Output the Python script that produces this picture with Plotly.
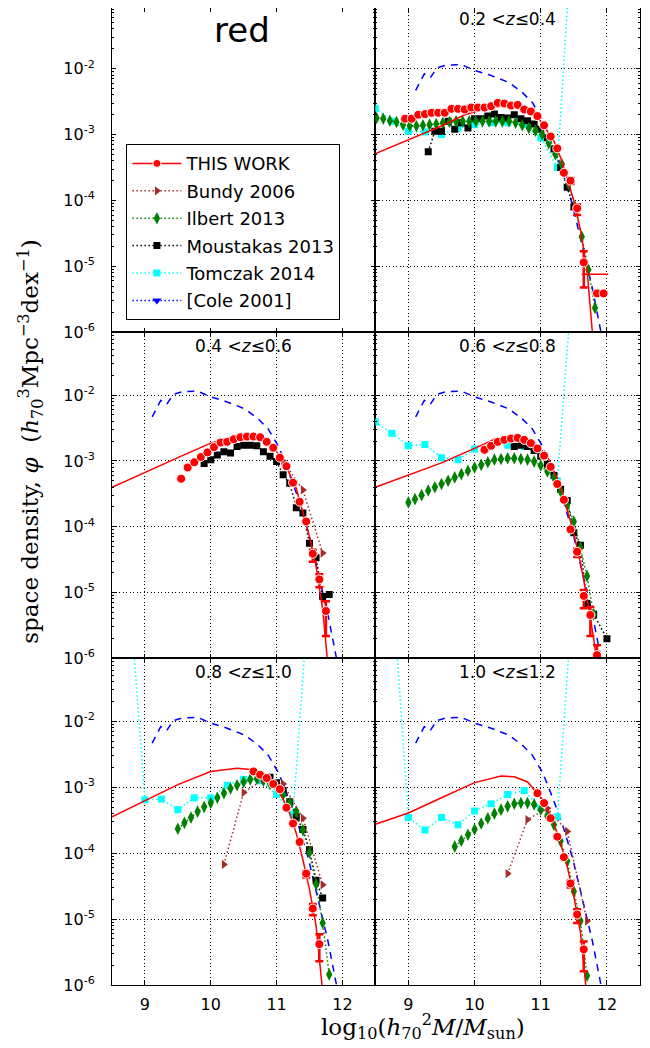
import plotly.graph_objects as go

# ---------------- data: x = log10(h70^2 M/Msun), y = log10(phi) ----------------
# [Cole 2001] local reference (same in every panel)
cole_x = [9.11, 9.24, 9.33, 9.43, 9.56, 9.80, 10.01, 10.24, 10.52, 10.72, 10.87, 11.03, 11.18, 11.33, 11.48, 11.63, 11.78, 11.92]
cole_y = [-2.33, -2.08, -2.14, -1.99, -1.95, -1.94, -2.03, -2.10, -2.21, -2.36, -2.51, -2.78, -3.16, -3.57, -4.07, -4.68, -5.33, -6.05]

# THIS WORK data points
tw_x_02 = [8.95, 9.05, 9.15, 9.25, 9.35, 9.45, 9.55, 9.65, 9.75, 9.85, 9.95, 10.05, 10.15, 10.25, 10.35, 10.45, 10.55, 10.65, 10.75, 10.85, 10.95, 11.05, 11.15, 11.25, 11.35, 11.45, 11.55, 11.65, 11.85, 11.95]
tw_y_02 = [-2.76, -2.76, -2.70, -2.69, -2.67, -2.67, -2.67, -2.61, -2.61, -2.62, -2.59, -2.59, -2.59, -2.57, -2.52, -2.53, -2.56, -2.55, -2.62, -2.65, -2.72, -2.86, -3.03, -3.21, -3.58, -3.70, -4.12, -4.94, -5.41, -5.41]
tw_elo_02 = [None] * 25 + [0.05, 0.10, 0.38, None, None]
tw_ehi_02 = [None] * 25 + [0.04, 0.06, 0.17, None, None]

tw_x_04 = [9.55, 9.65, 9.75, 9.85, 9.95, 10.05, 10.15, 10.25, 10.35, 10.45, 10.55, 10.65, 10.75, 10.85, 10.95, 11.05, 11.15, 11.25, 11.35, 11.45, 11.55, 11.65, 11.75]
tw_y_04 = [-3.27, -3.10, -3.02, -2.94, -2.87, -2.79, -2.72, -2.71, -2.67, -2.64, -2.63, -2.63, -2.64, -2.71, -2.80, -2.95, -3.08, -3.33, -3.62, -3.92, -4.41, -4.80, -5.28]
tw_elo_04 = [None] * 20 + [0.12, 0.12, 0.38]
tw_ehi_04 = [None] * 20 + [0.06, 0.08, 0.15]

tw_x_06 = [10.15, 10.25, 10.35, 10.45, 10.55, 10.65, 10.75, 10.85, 10.95, 11.05, 11.15, 11.25, 11.35, 11.45, 11.55, 11.65, 11.75, 11.85]
tw_y_06 = [-2.83, -2.77, -2.71, -2.68, -2.66, -2.65, -2.68, -2.73, -2.81, -2.92, -3.09, -3.35, -3.59, -4.04, -4.38, -5.05, -5.34, -5.95]
tw_elo_06 = [None] * 14 + [0.08, 0.19, 0.32, 0.30]
tw_ehi_06 = [None] * 14 + [0.05, 0.09, 0.12, 0.15]

tw_x_08 = [10.65, 10.75, 10.85, 10.95, 11.05, 11.15, 11.25, 11.35, 11.45, 11.55, 11.65]
tw_y_08 = [-2.76, -2.81, -2.86, -2.95, -3.03, -3.31, -3.55, -3.83, -4.31, -4.84, -5.38]
tw_elo_08 = [None] * 8 + [0.06, 0.10, 0.26]
tw_ehi_08 = [None] * 8 + [0.04, 0.07, 0.15]

tw_x_10 = [10.95, 11.05, 11.15, 11.25, 11.35, 11.45, 11.55, 11.65]
tw_y_10 = [-3.09, -3.24, -3.47, -3.75, -4.06, -4.46, -4.93, -5.46]
tw_elo_10 = [None] * 5 + [0.06, 0.13, 0.33]
tw_ehi_10 = [None] * 5 + [0.04, 0.08, 0.12]

# THIS WORK fitted curves
fit_x_02 = [8.5, 9.0, 9.5, 9.85, 10.2, 10.5, 10.8, 11.0, 11.2, 11.3, 11.4, 11.5, 11.6, 11.7, 11.78]
fit_y_02 = [-3.29, -3.08, -2.87, -2.70, -2.60, -2.56, -2.62, -2.80, -3.10, -3.35, -3.66, -4.00, -4.45, -5.05, -6.00]
fit_x_04 = [8.5, 9.0, 9.5, 10.0, 10.3, 10.5, 10.7, 10.9, 11.1, 11.3, 11.4, 11.5, 11.6, 11.7, 11.77]
fit_y_04 = [-3.40, -3.17, -2.95, -2.73, -2.64, -2.61, -2.63, -2.74, -2.98, -3.42, -3.80, -4.15, -4.60, -5.25, -6.00]
fit_x_06 = [8.5, 9.0, 9.5, 10.0, 10.3, 10.5, 10.7, 10.9, 11.1, 11.3, 11.5, 11.6, 11.7, 11.8, 11.84]
fit_y_06 = [-3.40, -3.22, -3.03, -2.81, -2.67, -2.63, -2.64, -2.72, -2.93, -3.38, -4.10, -4.55, -5.08, -5.70, -6.00]
fit_x_08 = [8.5, 9.0, 9.5, 10.0, 10.4, 10.6, 10.8, 11.0, 11.1, 11.2, 11.3, 11.4, 11.5, 11.6, 11.69]
fit_y_08 = [-3.45, -3.21, -2.96, -2.76, -2.71, -2.73, -2.82, -3.02, -3.18, -3.40, -3.70, -4.10, -4.55, -5.10, -6.00]
fit_x_10 = [8.5, 9.0, 9.5, 10.0, 10.4, 10.6, 10.8, 10.9, 11.0, 11.1, 11.2, 11.3, 11.4, 11.5, 11.6, 11.68]
fit_y_10 = [-3.56, -3.39, -3.16, -2.93, -2.83, -2.84, -2.92, -3.03, -3.15, -3.32, -3.55, -3.85, -4.20, -4.65, -5.20, -6.00]

# THIS WORK high-mass limit segment (0.2<z<=0.4)
lim_x_02 = [11.62, 12.02]
lim_y_02 = [-5.12, -5.12]

# Bundy 2006
bu_x_04 = [11.1, 11.4, 11.7]
bu_y_04 = [-3.00, -3.44, -4.40]
bu_x_08 = [10.2, 10.5, 10.8, 11.1, 11.4, 11.7]
bu_y_08 = [-4.17, -3.08, -2.88, -2.95, -3.47, -4.48]
bu_x_10 = [10.5, 10.8, 11.1, 11.4, 11.7]
bu_y_10 = [-4.31, -3.49, -3.32, -3.67, -5.03]

# Ilbert 2013
il_x_02 = [8.52, 8.62, 8.72, 8.82, 8.92, 9.02, 9.12, 9.22, 9.32, 9.42, 9.52, 9.62, 9.72, 9.82, 9.92, 10.02, 10.12, 10.22, 10.32, 10.42, 10.52, 10.62, 10.72, 10.82, 10.92, 11.02, 11.12, 11.22, 11.32, 11.42, 11.52, 11.62, 11.72, 11.82]
il_y_02 = [-2.75, -2.76, -2.79, -2.81, -2.85, -2.87, -2.87, -2.86, -2.85, -2.84, -2.82, -2.81, -2.80, -2.80, -2.80, -2.80, -2.80, -2.80, -2.80, -2.80, -2.80, -2.82, -2.86, -2.90, -2.94, -3.00, -3.13, -3.30, -3.45, -3.75, -4.10, -4.55, -5.05, -5.63]
il_x_06 = [9.0, 9.1, 9.2, 9.3, 9.4, 9.5, 9.6, 9.7, 9.8, 9.9, 10.0, 10.1, 10.2, 10.3, 10.4, 10.5, 10.6, 10.7, 10.8, 10.9, 11.0, 11.1, 11.2, 11.3, 11.4, 11.5, 11.6, 11.7, 11.8]
il_y_06 = [-3.63, -3.58, -3.52, -3.45, -3.40, -3.35, -3.30, -3.25, -3.20, -3.15, -3.10, -3.06, -3.02, -2.98, -2.97, -2.96, -2.96, -2.97, -2.98, -3.01, -3.07, -3.16, -3.25, -3.46, -3.67, -3.92, -4.32, -4.75, -5.33]
il_x_08 = [9.5, 9.6, 9.7, 9.8, 9.9, 10.0, 10.1, 10.2, 10.3, 10.4, 10.5, 10.6, 10.7, 10.8, 10.9, 11.0, 11.1, 11.2, 11.3, 11.4, 11.5, 11.6, 11.7, 11.8]
il_y_08 = [-3.63, -3.54, -3.46, -3.37, -3.30, -3.24, -3.16, -3.09, -3.02, -2.97, -2.92, -2.88, -2.87, -2.90, -2.95, -3.00, -3.11, -3.24, -3.37, -3.65, -3.99, -4.47, -5.06, -5.84]
il_x_10 = [9.7, 9.8, 9.9, 10.0, 10.1, 10.2, 10.3, 10.4, 10.5, 10.6, 10.7, 10.8, 10.9, 11.0, 11.1, 11.2, 11.3, 11.4, 11.5, 11.6, 11.7]
il_y_10 = [-3.90, -3.81, -3.72, -3.64, -3.55, -3.47, -3.40, -3.34, -3.29, -3.25, -3.24, -3.24, -3.26, -3.34, -3.44, -3.57, -3.82, -4.12, -4.58, -5.03, -5.86]

# Moustakas 2013
mo_x_02 = [9.3, 9.4, 9.5, 9.6, 9.7, 9.8, 9.9, 10.0, 10.1, 10.2, 10.3, 10.4, 10.5, 10.6, 10.7, 10.8, 10.9, 11.0, 11.1, 11.2, 11.3, 11.4, 11.5]
mo_y_02 = [-3.26, -2.95, -2.95, -2.80, -2.92, -2.82, -2.90, -2.76, -2.76, -2.72, -2.69, -2.74, -2.75, -2.70, -2.76, -2.79, -2.84, -2.92, -3.05, -3.22, -3.50, -3.80, -4.10]
mo_x_04 = [9.9, 10.0, 10.1, 10.2, 10.3, 10.4, 10.5, 10.6, 10.7, 10.8, 10.9, 11.0, 11.1, 11.2, 11.3, 11.4, 11.5, 11.6, 11.7, 11.8]
mo_y_04 = [-3.04, -2.98, -2.91, -2.86, -2.88, -2.78, -2.76, -2.76, -2.77, -2.86, -2.93, -3.01, -3.21, -3.34, -3.71, -3.79, -4.25, -4.47, -5.06, -5.03]
mo_x_06 = [10.6, 10.7, 10.8, 10.9, 11.0, 11.1, 11.2, 11.3, 11.4, 11.5, 11.6, 11.7, 11.8, 12.0]
mo_y_06 = [-2.78, -2.76, -2.78, -2.84, -2.93, -3.05, -3.22, -3.43, -3.60, -4.09, -4.28, -5.17, -5.33, -5.70]
mo_x_08 = [10.9, 11.0, 11.1, 11.2, 11.3, 11.4, 11.5, 11.6, 11.7]
mo_y_08 = [-2.85, -2.93, -3.05, -3.22, -3.45, -3.64, -3.95, -4.41, -4.68]

# Tomczak 2014
to_x_02 = [8.5, 8.75, 9.0, 9.25, 9.5, 9.75, 10.0, 10.25, 10.5, 10.75, 11.0, 11.25, 11.5]
to_y_02 = [-2.60, -2.80, -2.95, -2.96, -3.00, -2.90, -2.85, -2.82, -2.82, -2.85, -3.05, -3.50, 0.50]
to_x_06 = [8.5, 8.75, 9.0, 9.25, 9.5, 9.75, 10.0, 10.25, 10.5, 10.75, 11.0, 11.25, 11.5]
to_y_06 = [-2.41, -2.58, -2.77, -2.75, -2.95, -2.98, -2.82, -2.76, -2.76, -2.78, -2.91, -3.30, 0.00]
to_x_08 = [8.75, 9.0, 9.25, 9.5, 9.75, 10.0, 10.25, 10.5, 10.75, 11.0, 11.25, 11.5]
to_y_08 = [0.15, -3.19, -3.18, -3.34, -3.16, -3.16, -2.97, -2.88, -2.90, -3.11, -3.41, 0.06]
to_x_10 = [8.75, 9.0, 9.25, 9.5, 9.75, 10.0, 10.25, 10.5, 10.75, 11.0, 11.25, 11.5]
to_y_10 = [0.15, -3.46, -3.65, -3.46, -3.57, -3.36, -3.25, -3.11, -3.05, -3.32, -3.45, 0.10]

panel_labels = ["0.2", "0.4", "0.6", "0.8", "1.0", "1.2"]
y_tick_labels = ["10<sup>-6</sup>", "10<sup>-5</sup>", "10<sup>-4</sup>", "10<sup>-3</sup>", "10<sup>-2</sup>"]
x_tick_vals = [9, 10, 11, 12]

# ---------------- helpers ----------------
def lin(v):
    return [None if a is None else 10 ** a for a in v]

def err_up(y, e):
    return [None if d is None else 10 ** (a + d) - 10 ** a for a, d in zip(y, e)]

def err_dn(y, e):
    return [None if d is None else 10 ** a - 10 ** (a - d) for a, d in zip(y, e)]

RED = "red"
BROWN = "#a52a2a"
GREEN = "green"
CYAN = "#00ffff"
BLUE = "blue"
DOT = "1.5px,2.5px"

fig = go.Figure()

panels = {
    2: dict(tw=(tw_x_02, tw_y_02, tw_elo_02, tw_ehi_02), fit=(fit_x_02, fit_y_02),
            il=(il_x_02, il_y_02), mo=(mo_x_02, mo_y_02), to=(to_x_02, to_y_02), bu=None,
            lim=(lim_x_02, lim_y_02), z=(0, 1)),
    3: dict(tw=(tw_x_04, tw_y_04, tw_elo_04, tw_ehi_04), fit=(fit_x_04, fit_y_04),
            il=None, mo=(mo_x_04, mo_y_04), to=None, bu=(bu_x_04, bu_y_04), lim=None, z=(1, 2)),
    4: dict(tw=(tw_x_06, tw_y_06, tw_elo_06, tw_ehi_06), fit=(fit_x_06, fit_y_06),
            il=(il_x_06, il_y_06), mo=(mo_x_06, mo_y_06), to=(to_x_06, to_y_06), bu=None, lim=None, z=(2, 3)),
    5: dict(tw=(tw_x_08, tw_y_08, tw_elo_08, tw_ehi_08), fit=(fit_x_08, fit_y_08),
            il=(il_x_08, il_y_08), mo=(mo_x_08, mo_y_08), to=(to_x_08, to_y_08), bu=(bu_x_08, bu_y_08), lim=None, z=(3, 4)),
    6: dict(tw=(tw_x_10, tw_y_10, tw_elo_10, tw_ehi_10), fit=(fit_x_10, fit_y_10),
            il=(il_x_10, il_y_10), mo=None, to=(to_x_10, to_y_10), bu=(bu_x_10, bu_y_10), lim=None, z=(4, 5)),
}

for k, p in panels.items():
    xa, ya = f"x{k}", f"y{k}"
    common = dict(xaxis=xa, yaxis=ya, showlegend=False, hoverinfo="skip")
    fig.add_trace(go.Scatter(x=cole_x, y=lin(cole_y), mode="lines",
                             line=dict(color=BLUE, width=1.5, dash="7px,6px"), **common))
    if p["to"]:
        fig.add_trace(go.Scatter(x=p["to"][0], y=lin(p["to"][1]), mode="lines+markers",
                                 line=dict(color=CYAN, width=1.5, dash=DOT),
                                 marker=dict(symbol="square", size=7, color=CYAN, line=dict(width=0)),
                                 **common))
    if p["mo"]:
        fig.add_trace(go.Scatter(x=p["mo"][0], y=lin(p["mo"][1]), mode="lines+markers",
                                 line=dict(color="black", width=1.5, dash=DOT),
                                 marker=dict(symbol="square", size=7, color="black", line=dict(width=0)),
                                 **common))
    if p["il"]:
        fig.add_trace(go.Scatter(x=p["il"][0], y=lin(p["il"][1]), mode="lines+markers",
                                 line=dict(color=GREEN, width=1.5, dash=DOT),
                                 marker=dict(symbol="diamond-tall", size=9, color=GREEN, line=dict(width=0)),
                                 **common))
    if p["bu"]:
        fig.add_trace(go.Scatter(x=p["bu"][0], y=lin(p["bu"][1]), mode="lines+markers",
                                 line=dict(color=BROWN, width=1.5, dash=DOT),
                                 marker=dict(symbol="triangle-right", size=8, color=BROWN, line=dict(width=0)),
                                 **common))
    fig.add_trace(go.Scatter(x=p["fit"][0], y=lin(p["fit"][1]), mode="lines",
                             line=dict(color=RED, width=1.5), **common))
    if p["lim"]:
        fig.add_trace(go.Scatter(x=p["lim"][0], y=lin(p["lim"][1]), mode="lines",
                                 line=dict(color=RED, width=1.5), **common))
    tx, ty, elo, ehi = p["tw"]
    fig.add_trace(go.Scatter(x=tx, y=lin(ty), mode="markers",
                             marker=dict(symbol="circle", size=9, color=RED, line=dict(color="white", width=1)),
                             error_y=dict(type="data", symmetric=False, array=err_up(ty, ehi),
                                          arrayminus=err_dn(ty, elo), color=RED, thickness=2.5, width=4),
                             **common))

# legend entries (drawn in the empty top-left panel)
leg = [
    ("THIS WORK", RED, "circle", "solid", 8, dict(color="white", width=1)),
    ("Bundy 2006", BROWN, "triangle-right", DOT, 8, dict(width=0)),
    ("Ilbert 2013", GREEN, "diamond-tall", DOT, 9, dict(width=0)),
    ("Moustakas 2013", "black", "square", DOT, 7, dict(width=0)),
    ("Tomczak 2014", CYAN, "square", DOT, 7, dict(width=0)),
    ("[Cole 2001]", BLUE, "triangle-down", DOT, 8, dict(width=0)),
]
for i, (name, col, sym, dash, sz, ml) in enumerate(leg):
    fig.add_trace(go.Scatter(x=[None], y=[None], xaxis="x1", yaxis="y1", name=name,
                             mode="lines+markers", legendgroup=f"g{i}",
                             line=dict(color=col, width=1.5, dash=dash),
                             marker=dict(symbol=sym, size=sz, color=col, line=ml)))

# ---------------- axes ----------------
xdom = [[0.0, 0.4987], [0.4987, 1.0]]
ydom = [[0.6681, 1.0], [0.3343, 0.6681], [0.0, 0.3343]]
yrng = [[-6, -1.08], [-6, -1.045], [-6, -1.045]]
minor_vals = [m * 10.0 ** e for e in range(-6, -1) for m in range(2, 10)]
major_vals = [1e-6, 1e-5, 1e-4, 1e-3, 1e-2]

layout_axes = {}
for k in range(1, 7):
    r, c = (k - 1) // 2, (k - 1) % 2
    grid = k != 1
    layout_axes[f"xaxis{k}"] = dict(
        domain=xdom[c], anchor=f"y{k}", range=[8.5, 12.5], tickmode="array", tickvals=x_tick_vals,
        ticktext=[str(v) for v in x_tick_vals], ticks="inside", ticklen=4, tickcolor="black",
        showline=True, linecolor="black", linewidth=1, mirror="allticks",
        showgrid=grid, gridcolor="black", gridwidth=0.8, griddash="1px,2.5px", zeroline=False,
        showticklabels=(r == 2), tickfont=dict(family="DejaVu Sans", size=16, color="black"),
        ticklabelstandoff=5)
    layout_axes[f"yaxis{k}"] = dict(
        domain=ydom[r], anchor=f"x{k}", type="log", range=yrng[r], tickmode="array",
        tickvals=major_vals, ticktext=y_tick_labels, ticks="inside", ticklen=4, tickcolor="black",
        minor=dict(tickmode="array", tickvals=minor_vals, ticks="inside", ticklen=2, tickcolor="black", showgrid=False),
        showline=True, linecolor="black", linewidth=1, mirror="allticks",
        showgrid=grid, gridcolor="black", gridwidth=0.8, griddash="1px,2.5px", zeroline=False,
        showticklabels=(c == 0), tickfont=dict(family="DejaVu Sans", size=16, color="black"),
        ticklabelstandoff=13)

# ---------------- annotations ----------------
ann = []
centers_x = [0.2494, 0.749]
title_y = [0.9886, 0.6539, 0.3203]
for k, p in panels.items():
    r, c = (k - 1) // 2, (k - 1) % 2
    lo, hi = p["z"]
    ann.append(dict(x=centers_x[c], y=title_y[r], xref="paper", yref="paper", showarrow=False,
                    xanchor="center", yanchor="middle",
                    text=f"{panel_labels[lo]} &lt;<i>z</i>≤{panel_labels[hi]}",
                    font=dict(family="DejaVu Sans", size=17, color="black")))
ann.append(dict(x=0.246, y=0.977, xref="paper", yref="paper", showarrow=False,
                xanchor="center", yanchor="middle", text="red",
                font=dict(family="DejaVu Sans", size=34, color="black")))
ann.append(dict(x=-0.156, y=0.5557, xref="paper", yref="paper", showarrow=False, textangle=-90,
                xanchor="center", yanchor="middle",
                text="space density, <i>φ</i>  (<i>h</i><sub>70</sub><sup>3</sup>Mpc<sup>−3</sup>dex<sup>−1</sup>)",
                font=dict(family="DejaVu Serif", size=23, color="black")))
ann.append(dict(x=0.589, y=-0.042, xref="paper", yref="paper", showarrow=False,
                xanchor="center", yanchor="middle",
                text="log<sub>10</sub>(<i>h</i><sub>70</sub><sup>2</sup><i>M</i>/<i>M</i><sub>sun</sub>)",
                font=dict(family="DejaVu Serif", size=23, color="black")))

fig.update_layout(
    width=650, height=1048,
    margin=dict(l=104, r=18, t=0, b=71, pad=0),
    paper_bgcolor="white", plot_bgcolor="white",
    showlegend=True,
    legend=dict(x=0.0273, y=0.8606, xanchor="left", yanchor="top", bgcolor="white",
                bordercolor="black", borderwidth=1, traceorder="grouped", tracegroupgap=1,
                font=dict(family="DejaVu Sans", size=18, color="black"), itemwidth=49),
    annotations=ann,
    **layout_axes,
)

fig.write_html("out.html")
